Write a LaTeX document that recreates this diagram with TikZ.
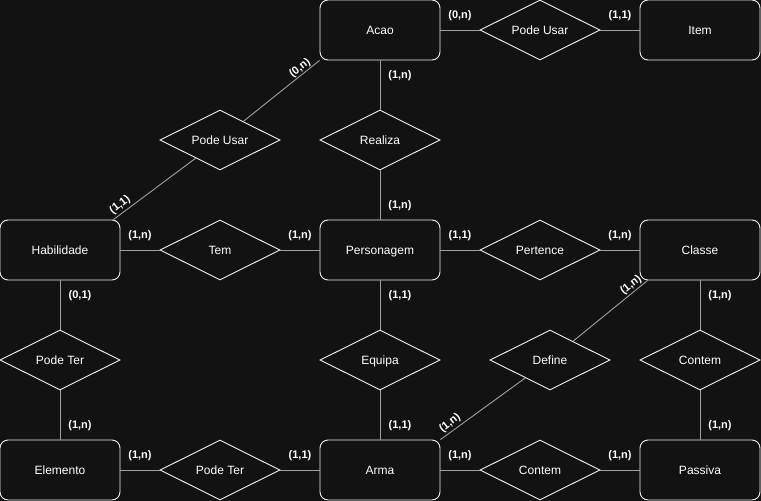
\documentclass[tikz,border=0pt]{standalone}
\usepackage{fontspec}
\setmainfont{Liberation Sans}
\usetikzlibrary{shapes.geometric}
\definecolor{bg}{HTML}{121212}
\definecolor{edge}{HTML}{F0F0F0}
\definecolor{linkgray}{HTML}{A0A0A0}
\tikzset{
	entity/.style={draw=edge, fill=bg, rounded corners=8pt, line width=0.9pt,
		minimum width=120pt, minimum height=60pt, text=white, text height=9pt, text depth=1pt,
		font=\fontsize{12}{14}\selectfont},
	relation/.style={diamond, draw=edge, fill=bg, line width=0.9pt, aspect=2, inner sep=0pt,
		minimum width=120pt, minimum height=60pt, text=white, text height=9pt, text depth=1pt,
		font=\fontsize{12}{14}\selectfont},
	link/.style={draw=linkgray, line width=0.9pt},
	card/.style={text=white, inner sep=0pt, font=\bfseries\fontsize{11}{13}\selectfont}
}

\begin{document}
\begin{tikzpicture}[x=1pt, y=-1pt]
		\fill[bg] (0,0) rectangle (761,501);
		\useasboundingbox (0,0) rectangle (761,501);
		
		% entidades
		\node[entity] (acao) at (380, 30) {Acao};
		\node[entity] (item) at (700, 30) {Item};
		\node[entity] (hab) at (60, 250) {Habilidade};
		\node[entity] (pers) at (380, 250) {Personagem};
		\node[entity] (classe) at (700, 250) {Classe};
		\node[entity] (elem) at (60, 470) {Elemento};
		\node[entity] (arma) at (380, 470) {Arma};
		\node[entity] (passiva) at (700, 470) {Passiva};
		
		% relacionamentos
		\node[relation] (usar_item) at (540, 30) {Pode Usar};
		\node[relation] (usar_hab) at (220, 140) {Pode Usar};
		\node[relation] (realiza) at (380, 140) {Realiza};
		\node[relation] (tem) at (220, 250) {Tem};
		\node[relation] (pertence) at (540, 250) {Pertence};
		\node[relation] (ter_elem) at (60, 360) {Pode Ter};
		\node[relation] (equipa) at (380, 360) {Equipa};
		\node[relation] (define) at (550, 360) {Define};
		\node[relation] (contem_cl) at (700, 360) {Contem};
		\node[relation] (ter_arma) at (220, 470) {Pode Ter};
		\node[relation] (contem_ar) at (540, 470) {Contem};
		
		\path[link] (acao) -- (usar_item) -- (item);
		\path[link] (acao.south west) -- (usar_hab) -- ([xshift=-7pt]hab.north east);
		\path[link] (acao) -- (realiza) -- (pers);
		\path[link] (hab) -- (tem) -- (pers);
		\path[link] (pers) -- (pertence) -- (classe);
		\path[link] (hab) -- (ter_elem) -- (elem);
		\path[link] (pers) -- (equipa) -- (arma);
		\path[link] ([xshift=8pt]classe.south west) -- (define) -- (arma.north east);
		\path[link] (classe) -- (contem_cl) -- (passiva);
		\path[link] (elem) -- (ter_arma) -- (arma);
		\path[link] (arma) -- (contem_ar) -- (passiva);
		
		% cardinalidades
		\node[card] (c1) at (460, 16) {(0,n)};
		\node[card] (c2) at (620, 16) {(1,1)};
		\node[card] (c3) at (400, 76) {(1,n)};
		\node[card, rotate=38] (c4) at (300, 68) {(0,n)};
		\node[card, rotate=38] (c5) at (120, 205) {(1,1)};
		\node[card] (c6) at (400, 206) {(1,n)};
		\node[card] (c7) at (140, 236) {(1,n)};
		\node[card] (c8) at (300, 236) {(1,n)};
		\node[card] (c9) at (460, 236) {(1,1)};
		\node[card] (c10) at (620, 236) {(1,n)};
		\node[card] (c11) at (80, 296) {(0,1)};
		\node[card] (c12) at (400, 296) {(1,1)};
		\node[card, rotate=38] (c13) at (631, 285) {(1,n)};
		\node[card] (c14) at (720, 296) {(1,n)};
		\node[card] (c15) at (80, 426) {(1,n)};
		\node[card] (c16) at (400, 426) {(1,1)};
		\node[card, rotate=38] (c17) at (450, 423) {(1,n)};
		\node[card] (c18) at (720, 426) {(1,n)};
		\node[card] (c19) at (140, 456) {(1,n)};
		\node[card] (c20) at (300, 456) {(1,1)};
		\node[card] (c21) at (460, 456) {(1,n)};
		\node[card] (c22) at (620, 456) {(1,n)};
	\end{tikzpicture}
\end{document}
